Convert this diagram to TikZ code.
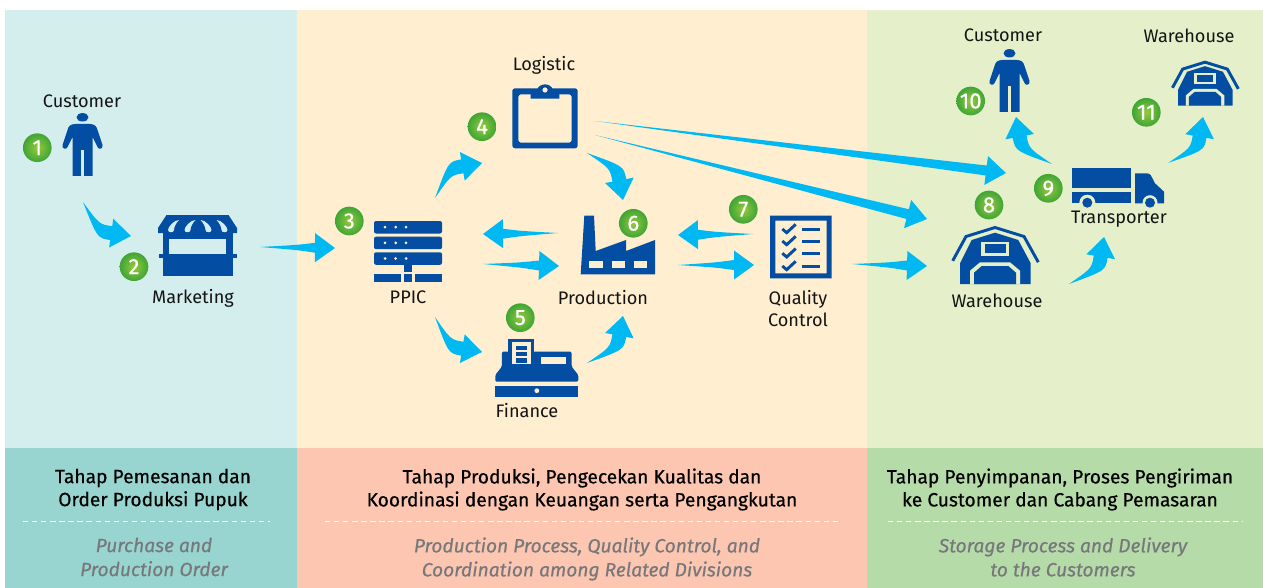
\documentclass[tikz,border=0pt]{standalone}
\usepackage{fontspec}
\setmainfont{Fira Sans}
\newfontfamily\headfont[FakeBold=0.5]{Fira Sans}
\usetikzlibrary{calc}
\definecolor{iconblue}{HTML}{034EA2}
\definecolor{flowblue}{HTML}{00B9F2}
\definecolor{ink}{HTML}{141414}
\definecolor{greyink}{HTML}{77787B}
\definecolor{panelA}{HTML}{D4EEEE}
\definecolor{panelB}{HTML}{FFEFD0}
\definecolor{panelC}{HTML}{E5F0CA}
\definecolor{footA}{HTML}{98D5D0}
\definecolor{footB}{HTML}{FCC6B0}
\definecolor{footC}{HTML}{B5DBA8}
\definecolor{badgein}{HTML}{96C93D}
\definecolor{badgeout}{HTML}{3FA535}
\tikzstyle{lbl} = [font=\fontsize{13.6}{16.5}\selectfont, text=ink, inner sep=0pt, align=center]
\tikzstyle{head} = [font=\headfont\fontsize{14.4}{17.25}\selectfont, text=black, inner sep=0pt, align=center]
\tikzstyle{sub} = [font=\headfont\itshape\fontsize{14.4}{18}\selectfont, text=greyink, inner sep=0pt, align=center]
\tikzstyle{badge} = [circle, shade, inner color=badgein, outer color=badgeout, minimum size=21.5pt, inner sep=0pt, text=white, font=\headfont\fontsize{16.5}{16.5}\selectfont]
\tikzstyle{dashline} = [white, line width=0.6pt, dash pattern=on 4pt off 2.8pt]
\tikzstyle{icon} = [fill=iconblue]
\tikzset{
  fatarrow/.style={fill=flowblue, to path={
    let \p{T}=(\tikztostart), \p{P}=(\tikztotarget),
        \p{C}=($(\p{T})!0.5!(\p{P})!#1*0.75pt!90:(\p{P})$),
        \p{B}=($(\p{P})!15pt!(\p{C})$),
        \p{U}=($(\p{C})!1.9pt+0.22pt*abs(#1)!90:(\p{P})$),
        \p{V}=($(\p{C})!1.9pt+0.22pt*abs(#1)!-90:(\p{P})$)
    in (\p{T}) .. controls (\p{U}) and (\p{U}) .. ($(\p{B})!3.75pt+0.1pt*abs(#1)!90:(\p{P})$)
       -- ($(\p{B})!10.9pt!90:(\p{P})$) -- (\p{P})
       -- ($(\p{B})!10.9pt!-90:(\p{P})$) -- ($(\p{B})!3.75pt+0.1pt*abs(#1)!-90:(\p{P})$)
       .. controls (\p{V}) and (\p{V}) .. (\p{T}) -- cycle}},
  fatarrow/.default=0,
  pics/person/.style={code={
    \fill[icon] (0,4.3) ellipse (6 and 4.2);
    \fill[icon] (-7,11) -- (7,11) .. controls (12,11) and (14,13) .. (15,17) -- (20,32)
      .. controls (21,36) and (16,37) .. (15,34) -- (10,24) -- (10,63) -- (1.7,63) -- (1.7,37)
      -- (-1.7,37) -- (-1.7,63) -- (-10,63) -- (-10,24) -- (-15,34)
      .. controls (-16,37) and (-21,36) .. (-20,32) -- (-15,17) .. controls (-14,13) and (-12,11) .. (-7,11) -- cycle;
  }},
  pics/shop/.style={code={
    \fill[icon] (-31,0) -- (31,0) -- (39.5,13) -- (39.5,18) -- (-39.5,18) -- (-39.5,13) -- cycle;
    \fill[icon] (-34.5,18) rectangle (35.5,61);
    \fill[icon] (-38.5,38.5) rectangle (39.5,43);
    \fill[panelA] (-28.5,24) rectangle (28.5,38.5);
    \foreach \x/\s in {-24.5/1,-8/1,9/-1,25/-1}
      \fill[panelA] (\x+\s*6,5) .. controls (\x+\s*1,5) and (\x-\s*5,12) .. (\x-\s*5,15)
        .. controls (\x-\s*5,18) and (\x+\s*1,18) .. (\x+\s*1,15) .. controls (\x+\s*1,12) and (\x+\s*3,8) .. (\x+\s*6,5) -- cycle;
  }},
  pics/server/.style={code={
    \foreach \y in {0,15.7,31.3} {
      \fill[icon, rounded corners=1.5pt] (-34,\y) rectangle (34,\y+12.5);
      \foreach \x in {-23,-12.3,-2}
        \fill[panelB] (\x,\y+6.2) circle (1.5);
    }
    \fill[icon] (-4,43) rectangle (3.7,50.7);
    \fill[icon] (-34,53) rectangle (-7,60.7);
    \fill[icon] (-4,53) rectangle (3.7,60.7);
    \fill[icon] (7,53) rectangle (34,60.7);
  }},
  pics/clipboard/.style={code={
    \fill[icon, even odd rule, rounded corners=2pt] (-32.7,4.3) rectangle (32.7,64.3) (-26.7,10.3) rectangle (26.7,58.7);
    \fill[icon] (-14.3,14.7) -- (-14.3,6) -- (-8,6) .. controls (-6,-1.5) and (6,-1.5) .. (8,6) -- (14.3,6) -- (14.3,14.7) -- cycle;
    \fill[panelB] (0,6) circle (2.6);
  }},
  pics/register/.style={code={
    \fill[icon] (-41.5,46.7) rectangle (41.5,57.7);
    \fill[panelB] (0,51.7) circle (2.4);
    \fill[icon, rounded corners=1pt] (-41.5,42.7) -- (-41.5,36) -- (-35,27.7) -- (-35,12.7) -- (34.9,12.7) -- (34.9,27.7) -- (41.5,36) -- (41.5,42.7) -- cycle;
    \fill[icon] (-28.5,0) rectangle (-2.5,27);
    \fill[panelB] (-24.5,2.7) rectangle (-6.1,25.3);
    \foreach \y in {6.7,12.7,19.3}
      \fill[icon] (-21.1,\y) rectangle (-9.5,\y+4.2);
    \fill[panelB] (4.2,17.7) rectangle (29.2,25.3);
  }},
  pics/factory/.style={code={
    \fill[icon] (-37.3,58.6) -- (-33.7,0) -- (-24,0) -- (-22.3,35.3) -- (8,24.3) -- (8,35.3) -- (37,24.3) -- (37,58.6) -- cycle;
    \foreach \x in {-28.7,-6.3,16}
      \fill[panelB] (\x,45.3) rectangle (\x+13.3,52.6);
  }},
  pics/checklist/.style={code={
    \fill[icon, even odd rule] (-30.8,0) rectangle (30.9,62.6) (-25.5,5) rectangle (25.9,57.6);
    \foreach \y in {13.3,25.3,37.6,50.3} {
      \fill[icon] (1.2,\y-1.5) rectangle (19.2,\y+1.5);
      \draw[iconblue, line width=2.2pt] (-18.5,\y) -- (-14.1,\y+3.7) -- (-5.1,\y-4.7);
    }
  }},
  pics/barn/.style={code={
    \draw[iconblue, line width=2.2pt] (-42.3,34.8) -- (-29,10.5) -- (0,1.5) -- (29,10.5) -- (43.3,36.2);
    \fill[icon] (-35,58) -- (-35,37.3) -- (-23.3,14) -- (0,6.7) -- (23.3,14) -- (35.7,37.3) -- (35.7,58) -- cycle;
    \fill[panelC] (-25,58) -- (-25,44.7) -- (-15,36.3) -- (15,36.3) -- (25,44.7) -- (25,58) -- cycle;
    \fill[icon] (-21,58) -- (-21,46.7) -- (-13.3,40) -- (13.3,40) -- (21,46.7) -- (21,58) -- cycle;
    \fill[panelC] (-14,15.7) rectangle (14.3,30);
    \fill[icon] (-10,18.3) rectangle (11,27.3);
  }},
  pics/truck/.style={code={
    \fill[icon] (-46,0) rectangle (13,20);
    \fill[icon] (-46,23.4) rectangle (13,35);
    \fill[icon] (17,5) -- (28.7,5) .. controls (32,5) and (34,8) .. (35,11) -- (37,15) -- (46,23.4) -- (46,35) -- (17,35) -- cycle;
    \fill[panelC] (-30.7,34.4) circle (8);
    \fill[panelC] (32,34.4) circle (7.5);
    \fill[icon] (-30.7,34.4) circle (5);
    \fill[icon] (32,34.4) circle (5);
  }},
}
\begin{document}
\begin{tikzpicture}[x=0.75pt, y=-0.75pt]
    \useasboundingbox (0,0) rectangle (1263,588);

    % Panels
    \fill[panelA] (5,10) rectangle (297,448);
    \fill[panelB] (297,10) rectangle (867,448);
    \fill[panelC] (867,10) rectangle (1263,448);
    \fill[footA] (5,448) rectangle (297,588);
    \fill[footB] (297,448) rectangle (867,588);
    \fill[footC] (867,448) rectangle (1263,588);

    % Icons
    \pic (iconcustomer) at (82.5,113) {person};
    \pic (iconshop) at (197.5,215) {shop};
    \pic (iconppic) at (408,221) {server};
    \pic (iconlogistic) at (545,84) {clipboard};
    \pic (iconfinance) at (536.8,339) {register};
    \pic (iconfactory) at (618,215.7) {factory};
    \pic (iconquality) at (800.8,215.7) {checklist};
    \pic (iconstore) at (995,226) {barn};
    \pic (icontruck) at (1118,168.3) {truck};
    \pic (iconbuyer) at (1009.5,49) {person};
    \pic[scale=0.77] (iconbranch) at (1205,61) {barn};

    % Labels
    \node (customer) [lbl] at (82,101) {Customer};
    \node (marketing) [lbl] at (193,298.5) {Marketing};
    \node (logistic) [lbl] at (544,65.5) {Logistic};
    \node (ppic) [lbl] at (408,297) {PPIC};
    \node (production) [lbl] at (603,298) {Production};
    \node (finance) [lbl] at (527,410.5) {Finance};
    \node (quality) [lbl] at (798,308.5) {Quality\\Control};
    \node (warehouse) [lbl] at (997,300.5) {Warehouse};
    \node (transporter) [lbl] at (1119,219.5) {Transporter};
    \node (buyer) [lbl] at (1003,35) {Customer};
    \node (branch) [lbl] at (1189,35.5) {Warehouse};

    % Badges
    \node (one) [badge] at (37.3,147.7) {1};
    \node (two) [badge] at (134,266.7) {2};
    \node (three) [badge] at (349.3,221) {3};
    \node (four) [badge] at (482,126.7) {4};
    \node (five) [badge] at (520.3,317.7) {5};
    \node (six) [badge] at (633.3,223.3) {6};
    \node (seven) [badge] at (743.3,209.3) {7};
    \node (eight) [badge] at (989,205) {8};
    \node (nine) [badge] at (1048.3,188.3) {9};
    \node (ten) [badge] at (970.7,101) {10};
    \node (eleven) [badge] at (1146.3,112.3) {11};

    % Arrow ends
    \coordinate (customerout) at (83,202);
    \coordinate (marketingin) at (131,236);
    \coordinate (marketingout) at (260,247);
    \coordinate (ppicin) at (335,248);
    \coordinate (ppicup) at (435,198);
    \coordinate (logisticin) at (482,163);
    \coordinate (ppicdown) at (435,317);
    \coordinate (financein) at (482,352);
    \coordinate (logisticout) at (587,153);
    \coordinate (productiontop) at (623,200);
    \coordinate (financeout) at (587,363);
    \coordinate (productionbottom) at (623,316);
    \coordinate (productionback) at (558,233);
    \coordinate (ppicback) at (483,234);
    \coordinate (ppicout) at (483,264);
    \coordinate (productionin) at (559,266);
    \coordinate (productionout) at (678,265);
    \coordinate (qualityin) at (754,265);
    \coordinate (qualityback) at (753,234);
    \coordinate (productionret) at (678,235);
    \coordinate (qualityout) at (852,264);
    \coordinate (warehousein) at (927,266);
    \coordinate (logisticfar) at (595,135);
    \coordinate (warehousetop) at (927,219);
    \coordinate (logistichigh) at (595,121);
    \coordinate (transporterin) at (1006,173);
    \coordinate (warehouseout) at (1069,284);
    \coordinate (transporterbottom) at (1104,237);
    \coordinate (transporterleft) at (1052,164);
    \coordinate (buyerin) at (1016,117);
    \coordinate (transporterright) at (1168,163);
    \coordinate (branchin) at (1203,117);

    % Arrows
    \fill[fatarrow=-15] (customerout) to (marketingin);
    \fill[fatarrow] (marketingout) to (ppicin);
    \fill[fatarrow=15] (ppicup) to (logisticin);
    \fill[fatarrow=-15] (ppicdown) to (financein);
    \fill[fatarrow=15] (logisticout) to (productiontop);
    \fill[fatarrow=-15] (financeout) to (productionbottom);
    \fill[fatarrow] (productionback) to (ppicback);
    \fill[fatarrow] (ppicout) to (productionin);
    \fill[fatarrow] (productionout) to (qualityin);
    \fill[fatarrow] (qualityback) to (productionret);
    \fill[fatarrow] (qualityout) to (warehousein);
    \fill[fatarrow] (logisticfar) to (warehousetop);
    \fill[fatarrow] (logistichigh) to (transporterin);
    \fill[fatarrow=-15] (warehouseout) to (transporterbottom);
    \fill[fatarrow=15] (transporterleft) to (buyerin);
    \fill[fatarrow=-15] (transporterright) to (branchin);

    % Footer
    \node (headA) [head] at (153,489.5) {Tahap Pemesanan dan\\Order Produksi Pupuk};
    \node (headB) [head] at (582,489.5) {Tahap Produksi, Pengecekan Kualitas dan\\Koordinasi dengan Keuangan serta Pengangkutan};
    \node (headC) [head] at (1060,489.5) {Tahap Penyimpanan, Proses Pengiriman\\ke Customer dan Cabang Pemasaran};
    \draw[dashline] (23,521) -- (270,521);
    \draw[dashline] (325,521) -- (840,521);
    \draw[dashline] (888,521) -- (1243,521);
    \node (subA) [sub] at (154,557) {Purchase and\\Production Order};
    \node (subB) [sub] at (587,559) {Production Process, Quality Control, and\\Coordination among Related Divisions};
    \node (subC) [sub] at (1063,557) {Storage Process and Delivery\\to the Customers};
\end{tikzpicture}
\end{document}
